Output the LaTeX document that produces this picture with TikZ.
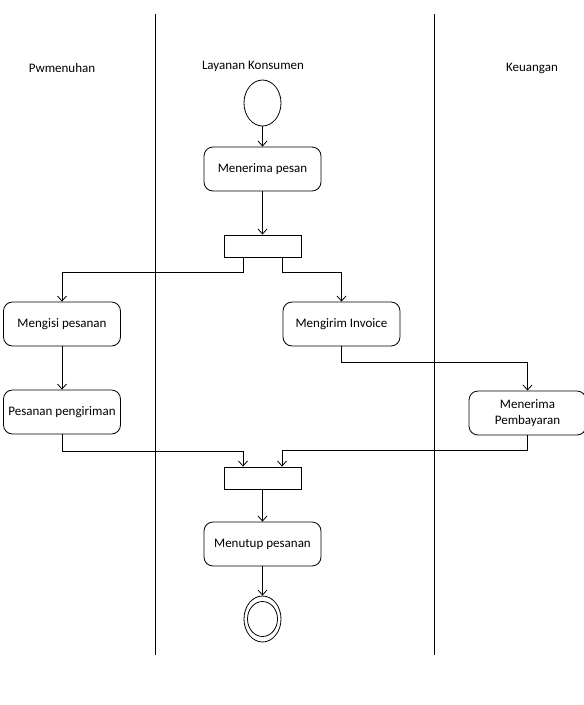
\documentclass[tikz,border=0pt]{standalone}
\usepackage{fontspec}
\setmainfont{Carlito}
\usetikzlibrary{arrows.meta,shapes.geometric}

\tikzset{
  act/.style={draw, rounded corners=9pt, minimum width=117pt, minimum height=44pt,
    inner sep=2pt, align=center, font=\fontsize{13}{16}\selectfont},
  bar/.style={draw, minimum width=77pt, minimum height=22pt, inner sep=0pt},
  ends/.style={draw, ellipse, minimum width=37pt, minimum height=46pt, inner sep=0pt},
  lanelbl/.style={font=\fontsize{13}{16}\selectfont},
  flow/.style={-{Straight Barb[length=5pt,width=9pt]}},
}

\begin{document}
\begin{tikzpicture}[x=1pt,y=-1pt,line width=0.8pt]
  \useasboundingbox (0,0) rectangle (584,705);

  % swimlanes
  \draw (155,14) -- (155,655);
  \draw (434,14) -- (434,655);
  \node[lanelbl] (lpenuh) at (62,68) {Pwmenuhan};
  \node[lanelbl] (llayan) at (253,66) {Layanan Konsumen};
  \node[lanelbl] (lkeu) at (532,68) {Keuangan};

  % nodes
  \node[ends] (start) at (262.5,103) {};
  \node[act] (terima) at (262.5,169) {Menerima pesan};
  \node[bar] (fork) at (262.5,246) {};
  \node[act] (isi) at (62,324) {Mengisi pesanan};
  \node[act] (invoice) at (341.5,324) {Mengirim Invoice};
  \node[act] (kirim) at (62,412) {Pesanan pengiriman};
  \node[act] (bayar) at (527.5,413) {Menerima\\Pembayaran};
  \node[bar] (join) at (262.5,478) {};
  \node[act] (tutup) at (262.5,544) {Menutup pesanan};
  \node[ends] (final) at (262.5,619) {};
  \node[draw, ellipse, minimum width=30pt, minimum height=35pt, inner sep=0pt] (finalin) at (final) {};

  % flows
  \draw[flow] (start) -- (terima);
  \draw[flow] (terima) -- (fork);
  \draw[flow] ([xshift=-19.5pt]fork.south) -- ++(0,15) -| (isi.north);
  \draw[flow] ([xshift=19.5pt]fork.south) -- ++(0,15) -| (invoice.north);
  \draw[flow] (isi) -- (kirim);
  \draw[flow] (invoice.south) -- ++(0,16) -| (bayar.north);
  \draw[flow] (kirim.south) -- ++(0,17) -| ([xshift=-19.5pt]join.north);
  \draw[flow] (bayar.south) -- ++(0,15) -| ([xshift=19.5pt]join.north);
  \draw[flow] (join) -- (tutup);
  \draw[flow] (tutup) -- (final);

\end{tikzpicture}
\end{document}
